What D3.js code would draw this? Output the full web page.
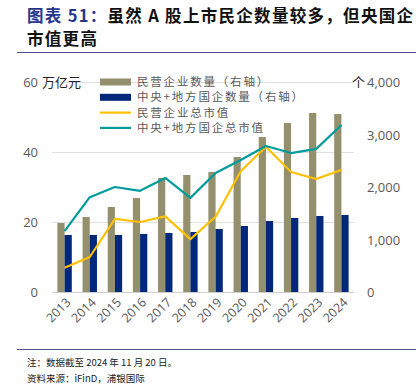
<!DOCTYPE html>
<html><head><meta charset="utf-8">
<script src="https://cdn.jsdelivr.net/npm/d3@7"></script>
<style>
body{margin:0;background:#fff;}
svg{display:block;font-family:"Noto Sans CJK SC","Noto Sans",sans-serif;}
</style></head><body>
<script>
const years = ["2013","2014","2015","2016","2017","2018","2019","2020","2021","2022","2023","2024"];
const privateCount = [1314,1429,1619,1790,2171,2229,2286,2571,2952,3219,3410,3390];
const soeCount = [1086,1086,1086,1105,1124,1143,1200,1257,1352,1410,1448,1467];
const privateCap = [6.9,10,20.9,20,21.6,15.1,21.5,34.5,41.5,34.3,32.3,34.9];
const soeCap = [17.4,27.1,30,28.9,32.6,26.9,34,37.7,41.7,39.7,40.9,47.7];
const leftTicks = [0,20,40,60];
const rightTicks = [0,1000,2000,3000,4000];
const legendLabels = ["民营企业数量（右轴）","中央+地方国企数量（右轴）","民营企业总市值","中央+地方国企总市值"];

const W=416,H=384;
const svg=d3.select("body").append("svg").attr("width",W).attr("height",H);
const ml=52, mr=354, pTop=82, pBot=292;
const x=d3.scaleBand().domain(years).range([ml,mr]);
const yL=d3.scaleLinear().domain([0,60]).range([pBot,pTop]);
const yR=d3.scaleLinear().domain([0,4000]).range([pBot,pTop]);
const cOlive="#948F6C", cBlue="#00287A", cYellow="#FFC000", cTeal="#009C9C";

// title
const t=svg.append("text").attr("x",27).attr("y",22).attr("font-size",16.5).attr("font-weight","bold").attr("letter-spacing","1.3px");
t.append("tspan").attr("fill","#26358C").text("图表 51：");
t.append("tspan").attr("fill","#111").text("虽然 A 股上市民企数量较多，但央国企");
svg.append("text").attr("x",27).attr("y",45).attr("font-size",16.5).attr("font-weight","bold").attr("fill","#111").attr("letter-spacing","1.3px").text("市值更高");
svg.append("line").attr("x1",17).attr("x2",416).attr("y1",52.5).attr("y2",52.5).attr("stroke","#4F4F8F").attr("stroke-width",1.2);

// gridlines
svg.append("g").selectAll("line").data(leftTicks).join("line")
  .attr("x1",ml).attr("x2",mr).attr("y1",d=>yL(d)+0.5).attr("y2",d=>yL(d)+0.5)
  .attr("stroke",d=>d===0?"#D0D0D0":"#E0E0E0").attr("stroke-width",1);

// left axis
const axL=d3.axisLeft(yL).tickValues(leftTicks).tickSize(0).tickPadding(0);
const gL=svg.append("g").attr("transform",`translate(38,0)`).call(axL);
gL.select(".domain").remove();
gL.selectAll("text").attr("font-size",13).attr("fill","#595959").attr("font-family","'Open Sans',sans-serif").attr("dy","0.35em");
svg.append("text").attr("x",42).attr("y",87).attr("font-size",13).attr("fill","#222").text("万亿元");

// right axis
const axR=d3.axisRight(yR).tickValues(rightTicks).tickSize(0).tickPadding(0).tickFormat(d3.format(","));
const gR=svg.append("g").attr("transform",`translate(367,0)`).call(axR);
gR.select(".domain").remove();
gR.selectAll("text").attr("font-size",13).attr("fill","#595959").attr("font-family","'Open Sans',sans-serif").attr("dy","0.35em");
svg.append("text").attr("x",352).attr("y",87).attr("font-size",13).attr("fill","#222").text("个");

// bars
const bw=7.2;
svg.append("g").selectAll("rect").data(privateCount).join("rect")
  .attr("x",(d,i)=>x(years[i])+x.bandwidth()/2-bw).attr("width",bw)
  .attr("y",d=>yR(d)).attr("height",d=>pBot-yR(d)).attr("fill",cOlive);
svg.append("g").selectAll("rect").data(soeCount).join("rect")
  .attr("x",(d,i)=>x(years[i])+x.bandwidth()/2).attr("width",bw)
  .attr("y",d=>yR(d)).attr("height",d=>pBot-yR(d)).attr("fill",cBlue);

// lines
const line=d3.line().x((d,i)=>x(years[i])+x.bandwidth()/2).y(d=>yL(d));
svg.append("path").datum(privateCap).attr("d",line).attr("fill","none").attr("stroke",cYellow).attr("stroke-width",2.2).attr("stroke-linejoin","round");
svg.append("path").datum(soeCap).attr("d",line).attr("fill","none").attr("stroke",cTeal).attr("stroke-width",2.2).attr("stroke-linejoin","round");

// x labels
svg.append("g").selectAll("text").data(years).join("text")
  .attr("transform",d=>`translate(${x(d)+x.bandwidth()/2+4},${pBot+8}) rotate(-45)`)
  .attr("text-anchor","end").attr("dy","0.35em").attr("font-size",12.5).attr("fill","#595959")
  .attr("font-family","'Open Sans',sans-serif").text(d=>d);

// legend
const lg=svg.append("g");
const lcol=[cOlive,cBlue,cYellow,cTeal];
legendLabels.forEach((l,i)=>{
  const yy=82+i*15.3;
  if(i<2) lg.append("rect").attr("x",100).attr("y",yy-3.5).attr("width",31).attr("height",7).attr("fill",lcol[i]);
  else lg.append("line").attr("x1",100).attr("x2",131).attr("y1",yy).attr("y2",yy).attr("stroke",lcol[i]).attr("stroke-width",2.2);
  lg.append("text").attr("x",137).attr("y",yy).attr("dy","0.36em").attr("font-size",11.5).attr("fill","#595959").attr("letter-spacing","1.8px").text(l);
});

// footer
svg.append("line").attr("x1",17).attr("x2",416).attr("y1",349.5).attr("y2",349.5).attr("stroke","#4F4F8F").attr("stroke-width",1.2);
svg.append("text").attr("x",27).attr("y",366).attr("font-size",9.5).attr("fill","#222").text("注：数据截至 2024 年 11 月 20 日。");
svg.append("text").attr("x",27).attr("y",382).attr("font-size",9.5).attr("fill","#222").text("资料来源：iFinD，浦银国际");
</script>
</body></html>
